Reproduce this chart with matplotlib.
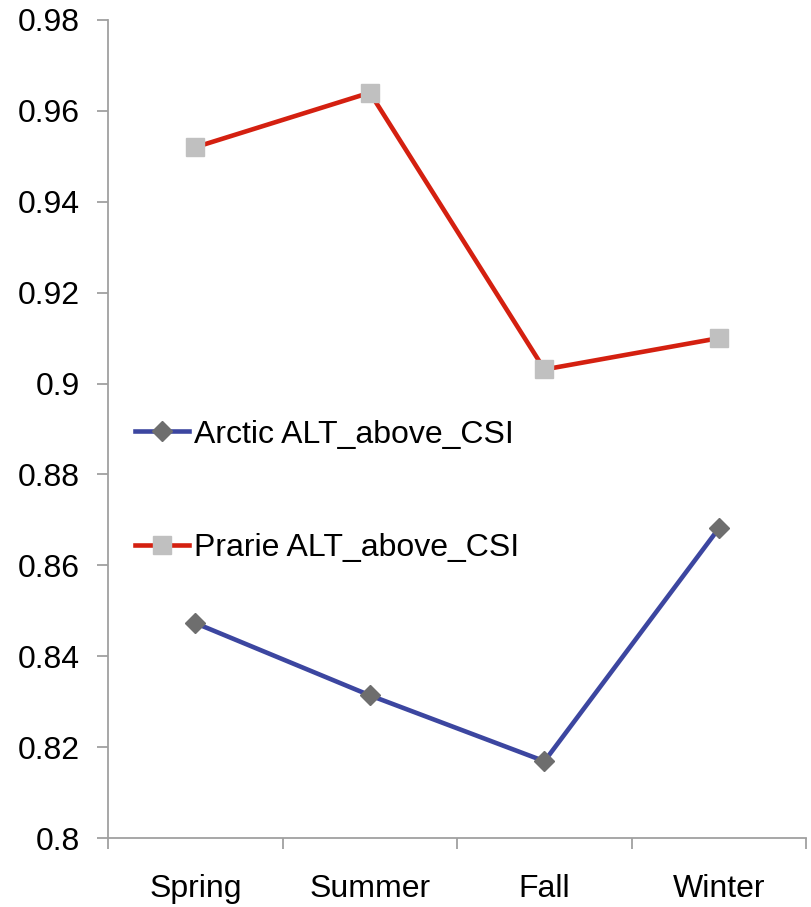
import matplotlib
matplotlib.use('Agg')
import matplotlib.pyplot as plt

# %% Data:
seasons = ['Spring', 'Summer', 'Fall', 'Winter']
arctic = [0.8473, 0.8314, 0.8169, 0.8682]
prarie = [0.9520, 0.9640, 0.9031, 0.9100]
yticks = [0.8, 0.82, 0.84, 0.86, 0.88, 0.9, 0.92, 0.94, 0.96, 0.98]
ytick_labels = ['0.8', '0.82', '0.84', '0.86', '0.88', '0.9', '0.92', '0.94', '0.96', '0.98']

# %% Plot:
plt.rcParams['font.family'] = ['Liberation Sans', 'DejaVu Sans']

fig = plt.figure(figsize=(8.12, 9.07), dpi=100)
ax = fig.add_axes([0.133, 0.076, 0.860, 0.902])

x = list(range(len(seasons)))
ax.plot(x, arctic, color='#3c46a0', lw=3.3, marker='D', markersize=10,
        markerfacecolor='#6e6e6e', markeredgecolor='#6e6e6e',
        label='Arctic ALT_above_CSI')
ax.plot(x, prarie, color='#d42010', lw=3.3, marker='s', markersize=13,
        markerfacecolor='#c0c0c0', markeredgecolor='#c0c0c0',
        label='Prarie ALT_above_CSI')

ax.set_xlim(-0.5, 3.5)
ax.set_ylim(0.8, 0.98)
ax.set_yticks(yticks)
ax.set_yticklabels(ytick_labels)
ax.set_xticks([-0.5, 0.5, 1.5, 2.5, 3.5])
ax.set_xticklabels([])
ax.set_xticks(x, minor=True)
ax.set_xticklabels(seasons, minor=True)

for s in ['top', 'right']:
    ax.spines[s].set_visible(False)
for s in ['left', 'bottom']:
    ax.spines[s].set_color('#a0a0a0')
    ax.spines[s].set_linewidth(1.3)

ax.tick_params(axis='y', which='major', length=8, width=1.3, color='#a0a0a0',
               labelsize=23, pad=12)
ax.tick_params(axis='x', which='major', length=8, width=1.3, color='#a0a0a0')
ax.tick_params(axis='x', which='minor', length=0, labelsize=23, pad=26)

ax.legend(loc='center left', bbox_to_anchor=(0.02, 0.424), frameon=False,
          fontsize=23, labelspacing=2.6, handlelength=1.7, handletextpad=0.15,
          borderaxespad=0)

fig.savefig('out.png', dpi=100)
